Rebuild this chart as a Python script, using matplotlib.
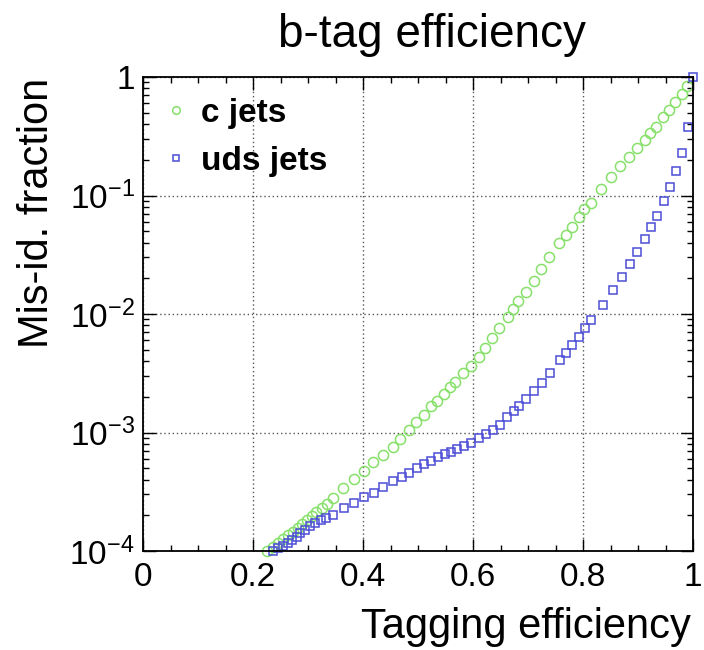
import matplotlib
matplotlib.use("Agg")
import matplotlib.pyplot as plt
from matplotlib.ticker import FixedLocator, LogLocator, NullFormatter, MultipleLocator

plt.rcParams['font.family'] = ['Liberation Sans', 'DejaVu Sans']
plt.rcParams['mathtext.default'] = 'regular'

# c jets (green circles)
c_eff = [0.225, 0.236, 0.245, 0.255, 0.263, 0.272, 0.281, 0.289, 0.298, 0.307,
         0.315, 0.325, 0.335, 0.345, 0.364, 0.384, 0.402, 0.419, 0.437, 0.454,
         0.467, 0.484, 0.496, 0.510, 0.524, 0.535, 0.548, 0.558, 0.567, 0.582,
         0.596, 0.610, 0.621, 0.634, 0.647, 0.663, 0.672, 0.682, 0.696, 0.710,
         0.723, 0.739, 0.757, 0.769, 0.780, 0.792, 0.801, 0.815, 0.833, 0.851,
         0.867, 0.884, 0.898, 0.912, 0.922, 0.933, 0.946, 0.956, 0.967, 0.980,
         0.989]
c_mis = [1.00e-4, 1.09e-4, 1.16e-4, 1.26e-4, 1.36e-4, 1.45e-4, 1.55e-4, 1.69e-4, 1.83e-4, 1.97e-4,
         2.12e-4, 2.29e-4, 2.48e-4, 2.79e-4, 3.42e-4, 4.03e-4, 4.76e-4, 5.67e-4, 6.46e-4, 7.59e-4,
         8.81e-4, 1.04e-3, 1.23e-3, 1.41e-3, 1.67e-3, 1.85e-3, 2.11e-3, 2.41e-3, 2.68e-3, 3.16e-3,
         3.66e-3, 4.31e-3, 5.14e-3, 6.24e-3, 7.57e-3, 9.48e-3, 1.10e-2, 1.29e-2, 1.54e-2, 1.91e-2,
         2.38e-2, 3.04e-2, 3.95e-2, 4.64e-2, 5.46e-2, 6.62e-2, 7.65e-2, 8.70e-2, 0.113, 0.144,
         0.177, 0.212, 0.250, 0.294, 0.335, 0.381, 0.457, 0.527, 0.612, 0.719,
         0.840]

# uds jets (blue squares)
uds_eff = [0.237, 0.246, 0.255, 0.264, 0.270, 0.280, 0.286, 0.295, 0.304, 0.313,
           0.323, 0.333, 0.345, 0.366, 0.384, 0.402, 0.420, 0.437, 0.454, 0.470,
           0.484, 0.498, 0.511, 0.524, 0.537, 0.549, 0.560, 0.570, 0.584, 0.596,
           0.610, 0.624, 0.637, 0.649, 0.662, 0.674, 0.684, 0.696, 0.710, 0.725,
           0.740, 0.758, 0.769, 0.780, 0.792, 0.804, 0.815, 0.836, 0.854, 0.870,
           0.885, 0.899, 0.912, 0.924, 0.934, 0.947, 0.958, 0.969, 0.980, 0.990,
           1.000]
uds_mis = [1.00e-4, 1.05e-4, 1.11e-4, 1.16e-4, 1.24e-4, 1.32e-4, 1.41e-4, 1.50e-4, 1.63e-4, 1.73e-4,
           1.83e-4, 1.91e-4, 2.01e-4, 2.32e-4, 2.56e-4, 2.87e-4, 3.10e-4, 3.47e-4, 3.86e-4, 4.18e-4,
           4.58e-4, 4.99e-4, 5.39e-4, 5.78e-4, 6.18e-4, 6.59e-4, 6.89e-4, 7.22e-4, 7.69e-4, 8.20e-4,
           8.93e-4, 9.71e-4, 1.04e-3, 1.16e-3, 1.36e-3, 1.52e-3, 1.67e-3, 1.91e-3, 2.24e-3, 2.63e-3,
           3.20e-3, 4.09e-3, 4.66e-3, 5.47e-3, 6.43e-3, 7.57e-3, 8.89e-3, 1.19e-2, 1.59e-2, 2.05e-2,
           2.64e-2, 3.36e-2, 4.30e-2, 5.46e-2, 6.72e-2, 8.99e-2, 0.117, 0.161, 0.227, 0.379,
           1.0]

x_ticks = [0, 0.2, 0.4, 0.6, 0.8, 1]
x_ticklabels = ['0', '0.2', '0.4', '0.6', '0.8', '1']
y_ticks = [1e-4, 1e-3, 1e-2, 1e-1, 1]
y_ticklabels = ['$10^{-4}$', '$10^{-3}$', '$10^{-2}$', '$10^{-1}$', '1']

green = '#86e06a'
blue = '#4d4dd6'

fig = plt.figure(figsize=(7.04, 6.5), dpi=100)
ax = fig.add_axes([143/704, 1-551/650, 550/704, 474/650])

ax.plot(c_eff, c_mis, linestyle='none', marker='o', markersize=7.3,
        markerfacecolor='none', markeredgecolor=green, markeredgewidth=1.1,
        label='c jets', clip_on=False)
ax.plot(uds_eff, uds_mis, linestyle='none', marker='s', markersize=5.6,
        markerfacecolor='none', markeredgecolor=blue, markeredgewidth=1.1,
        label='uds jets', clip_on=False)

ax.set_yscale('log')
ax.set_xlim(0, 1)
ax.set_ylim(1e-4, 1)

ax.xaxis.set_major_locator(FixedLocator(x_ticks))
ax.set_xticklabels(x_ticklabels)
ax.xaxis.set_minor_locator(MultipleLocator(0.05))
ax.yaxis.set_major_locator(FixedLocator(y_ticks))
ax.set_yticklabels(y_ticklabels)
ax.yaxis.set_minor_locator(LogLocator(base=10, subs=range(2, 10)))
ax.yaxis.set_minor_formatter(NullFormatter())

ax.tick_params(which='both', direction='in', top=True, right=True, labelsize=24)
ax.tick_params(which='major', length=9, width=1.0)
ax.tick_params(which='minor', length=4.5, width=1.0)
ax.tick_params(axis='x', which='major', pad=8)
ax.tick_params(axis='y', which='major', pad=6)

ax.grid(True, which='major', linestyle=(0, (1, 2)), color='#555555', linewidth=1.0)
for s in ax.spines.values():
    s.set_linewidth(1.3)

leg = ax.legend(loc='upper left', bbox_to_anchor=(0.0, 0.998), frameon=False,
                prop={'weight': 'bold', 'size': 24}, handletextpad=0.35,
                markerscale=0.75, labelspacing=0.5, borderaxespad=0.2,
                handlelength=0.8)

fig.text(432/704, 1-35/650, 'b-tag efficiency', ha='center', va='center', fontsize=33)
fig.text(691/704, 1-627/650, 'Tagging efficiency', ha='right', va='center', fontsize=30)
fig.text(37/704, 1-78/650, 'Mis-id. fraction', ha='center', va='top', rotation=90, fontsize=30)

fig.savefig('out.png', dpi=100)
